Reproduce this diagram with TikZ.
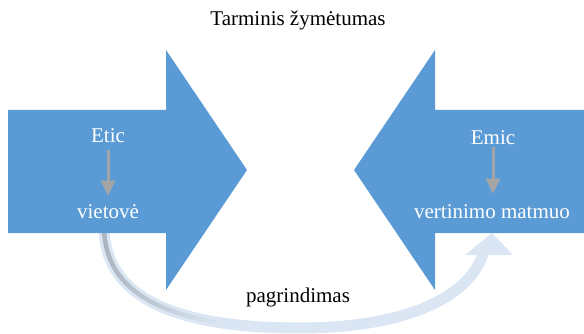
\documentclass[tikz,border=0pt]{standalone}
\usepackage{fontspec}
\setmainfont{Liberation Serif}
\usetikzlibrary{arrows.meta,fadings}
\definecolor{arrowblue}{HTML}{5B9BD5}
\definecolor{stepgray}{HTML}{A5A5A5}
\definecolor{bandblue}{HTML}{DAE6F3}
\definecolor{bandgray}{HTML}{ABB5C0}
\tikzset{
  bigarrow/.style={fill=arrowblue, draw=none},
  label/.style={font=\fontsize{21}{25}\selectfont, inner sep=0pt},
  inlabel/.style={label, text=white},
  downlink/.style={draw=stepgray, line width=3pt, -{Triangle[width=14pt,length=15pt]}},
  band/.style={draw=bandblue, line width=11pt},
}
\begin{document}
\begin{tikzpicture}[x=1pt, y=-1pt]
  \useasboundingbox (0,0) rectangle (584,334);

  % curved return arrow below the two block arrows
  \coordinate (cstart) at (104,226);
  \coordinate (cmid) at (300,328);
  \coordinate (cend) at (483,254);
  \coordinate (gend) at (219,322.5);
  \draw[band] (cstart) .. controls (104,300) and (180,328) .. (cmid)
              .. controls (400,328) and (468,300) .. (cend);
  \fill[bandblue] (465,255) -- (492,233) -- (513,255) -- cycle;
  % darker inner stripe fading out along the left part of the curve
  \draw[bandgray, line width=4.5pt, path fading=east]
       (cstart) .. controls (104,281.5) and (146.75,311.1) .. (gend);

  % block arrows
  \path[bigarrow] (8,110) -- (166,110) -- (166,50) -- (247,170)
        -- (166,290) -- (166,233) -- (8,233) -- cycle;
  \path[bigarrow] (584,110) -- (435,110) -- (435,50) -- (354,170)
        -- (435,290) -- (435,233) -- (584,233) -- cycle;

  % texts
  \node[label] (title) at (298,20) {Tarminis žymėtumas};
  \node[inlabel] (etic) at (108,136) {Etic};
  \node[inlabel] (vietove) at (108,212) {vietovė};
  \node[inlabel] (emic) at (493,138) {Emic};
  \node[inlabel] (matmuo) at (492,212) {vertinimo matmuo};
  \node[label] (pagr) at (298,297) {pagrindimas};

  \draw[downlink, shorten <=7pt, shorten >=9pt] (etic) -- (etic |- vietove.north);
  \draw[downlink, shorten <=2pt, shorten >=11pt] (emic) -- (emic |- matmuo.north);
\end{tikzpicture}
\end{document}
